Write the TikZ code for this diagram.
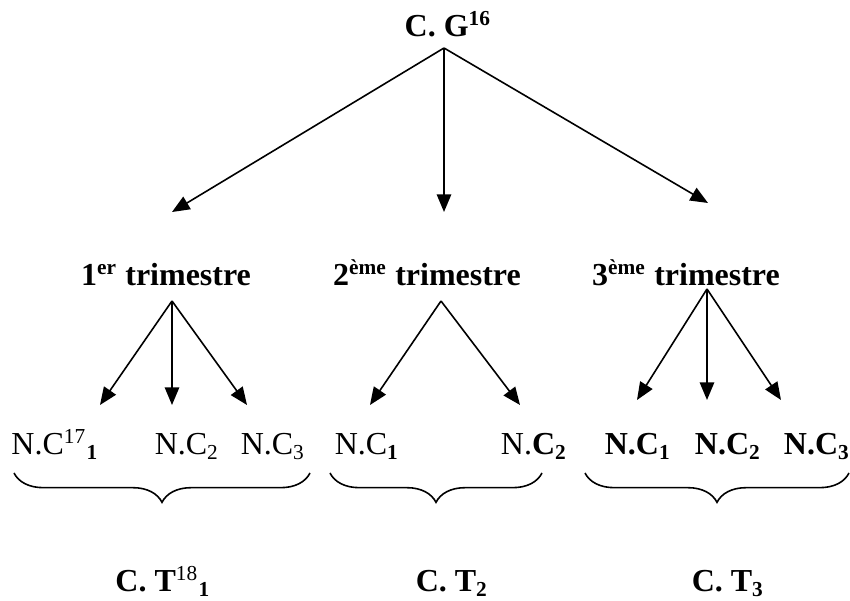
\documentclass[tikz,border=0pt]{standalone}
\usepackage{fontspec}
\setmainfont{Liberation Serif}
\usetikzlibrary{arrows.meta,decorations.pathreplacing}

\begin{document}
\begin{tikzpicture}[x=0.375pt,y=-0.375pt,
		lbl/.style={anchor=base, inner sep=0pt, font=\fontsize{12}{14}\selectfont},
		hd/.style={lbl, font=\fontsize{12}{14}\selectfont\bfseries},
		arr/.style={-{Triangle[length=6.6pt,width=5.4pt]}, line width=0.6pt},
		brc/.style={decorate, decoration={brace, mirror, amplitude=11pt}, line width=0.6pt}]
		\useasboundingbox (0,0) rectangle (850,601);

		% top level
		\node[hd] (cg) at (448,37) {C. G\textsuperscript{16}};

		\node[hd] (t1) at (166,286) {1\textsuperscript{er} trimestre};
		\node[hd] (t2) at (427,286) {2\textsuperscript{ème} trimestre};
		\node[hd] (t3) at (686,286) {3\textsuperscript{ème} trimestre};

		% apexes and free ends of the arrows
		\coordinate (a0) at (444,48);
		\coordinate (p1) at (172,212);
		\coordinate (p2) at (444,212);
		\coordinate (p3) at (708,203);

		\coordinate (a1) at (172,301);
		\coordinate (q11) at (100,405);
		\coordinate (q12) at (172,405);
		\coordinate (q13) at (247,405);

		\coordinate (a2) at (441,301);
		\coordinate (q21) at (370,405);
		\coordinate (q22) at (520,405);

		\coordinate (a3) at (707,289);
		\coordinate (q31) at (637,400);
		\coordinate (q32) at (707,400);
		\coordinate (q33) at (781,400);

		\draw[arr] (a0) -- (p1);
		\draw[arr] (a0) -- (p2);
		\draw[arr] (a0) -- (p3);

		\draw[arr] (a1) -- (q11);
		\draw[arr] (a1) -- (q12);
		\draw[arr] (a1) -- (q13);

		\draw[arr] (a2) -- (q21);
		\draw[arr] (a2) -- (q22);

		\draw[arr] (a3) -- (q31);
		\draw[arr] (a3) -- (q32);
		\draw[arr] (a3) -- (q33);

		% notes
		\node[lbl] (n11) at (55,455) {N.C\textsuperscript{17}\textsubscript{\textbf{1}}};
		\node[lbl] (n12) at (187,455) {N.C\textsubscript{2}};
		\node[lbl] (n13) at (273,455) {N.C\textsubscript{3}};

		\node[lbl] (n21) at (367,455) {N.C\textsubscript{\textbf{1}}};
		\node[lbl] (n22) at (534,455) {N.\textbf{C\textsubscript{2}}};

		\node[hd] (n31) at (638,455) {N.C\textsubscript{1}};
		\node[hd] (n32) at (728,455) {N.C\textsubscript{2}};
		\node[hd] (n33) at (817,455) {N.C\textsubscript{3}};

		% braces
		\draw[brc] (14,473) -- (310,473);
		\draw[brc] (330,473) -- (542,473);
		\draw[brc] (585,473) -- (849,473);

		\node[hd] (ct1) at (163,592) {C. T\textsuperscript{\mdseries 18}\textsubscript{1}};
		\node[hd] (ct2) at (452,592) {C. T\textsubscript{2}};
		\node[hd] (ct3) at (728,592) {C. T\textsubscript{3}};

	\end{tikzpicture}
\end{document}
